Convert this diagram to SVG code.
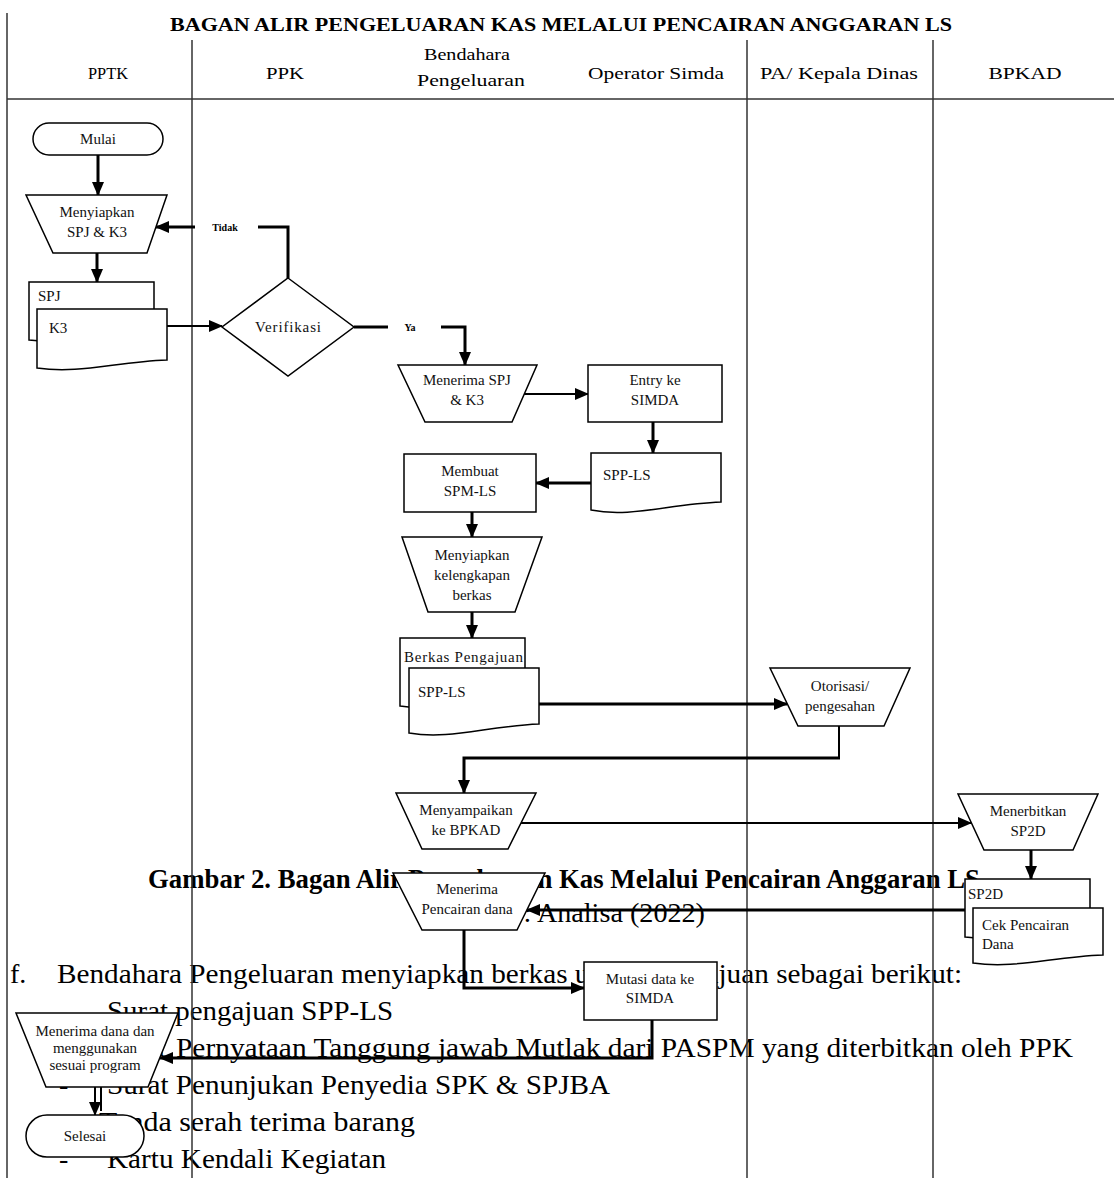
<svg xmlns="http://www.w3.org/2000/svg" width="1114" height="1178" viewBox="0 0 1114 1178">
<style>
.lane{stroke:#333;stroke-width:1.5;fill:none}
.sh{fill:#fff;stroke:#000;stroke-width:1.5}
.tk{stroke:#000;stroke-width:3;fill:none}
.tn{stroke:#000;stroke-width:2;fill:none}
.nt{font-family:"Liberation Serif",serif;font-size:15px;fill:#111}
.nc{text-anchor:middle}
.hd{font-family:"Liberation Serif",serif;font-size:17px;fill:#000;text-anchor:middle}
.ttl{font-family:"Liberation Serif",serif;font-size:19px;font-weight:bold;fill:#000}
.body{font-family:"Liberation Serif",serif;font-size:28px;fill:#000}
.cap{font-family:"Liberation Serif",serif;font-size:27px;font-weight:bold;fill:#000}
.sm{font-family:"Liberation Serif",serif;font-size:10px;font-weight:bold;fill:#000;text-anchor:middle}
</style>
<defs>
<marker id="ah" markerUnits="userSpaceOnUse" markerWidth="14" markerHeight="12" refX="13" refY="6" orient="auto"><path d="M0,0 L14,6 L0,12 Z" fill="#000"/></marker>
</defs>
<rect width="1114" height="1178" fill="#fff"/>

<g id="document-text">
<text class="cap" x="148" y="888" textLength="832" lengthAdjust="spacingAndGlyphs">Gambar 2. Bagan Alir Pengeluaran Kas Melalui Pencairan Anggaran LS</text>
<text class="body" x="436" y="922" textLength="269" lengthAdjust="spacingAndGlyphs">Sumber: Analisa (2022)</text>
<text class="body" x="10" y="983">f.</text>
<text class="body" x="57" y="983" textLength="905" lengthAdjust="spacingAndGlyphs">Bendahara Pengeluaran menyiapkan berkas untuk pengajuan sebagai berikut:</text>
<text class="body" x="59" y="1020">-</text>
<text class="body" x="107" y="1020" textLength="286" lengthAdjust="spacingAndGlyphs">Surat pengajuan SPP-LS</text>
<text class="body" x="59" y="1057">-</text>
<text class="body" x="107" y="1057">Surat</text>
<text class="body" x="176" y="1057" textLength="897" lengthAdjust="spacingAndGlyphs">Pernyataan Tanggung jawab Mutlak dari PASPM yang diterbitkan oleh PPK</text>
<text class="body" x="59" y="1094">-</text>
<text class="body" x="107" y="1094" textLength="503" lengthAdjust="spacingAndGlyphs">Surat Penunjukan Penyedia SPK &amp; SPJBA</text>
<text class="body" x="59" y="1131">-</text>
<text class="body" x="99" y="1131" textLength="316" lengthAdjust="spacingAndGlyphs">Tanda serah terima barang</text>
<text class="body" x="59" y="1168">-</text>
<text class="body" x="107" y="1168" textLength="279" lengthAdjust="spacingAndGlyphs">Kartu Kendali Kegiatan</text>
</g>

<g id="header">
<text class="ttl" x="170" y="31" textLength="782" lengthAdjust="spacingAndGlyphs">BAGAN ALIR PENGELUARAN KAS MELALUI PENCAIRAN ANGGARAN LS</text>
<text class="hd" x="108" y="79" textLength="40" lengthAdjust="spacingAndGlyphs">PPTK</text>
<text class="hd" x="285" y="79" textLength="38" lengthAdjust="spacingAndGlyphs">PPK</text>
<text class="hd" x="467" y="60" textLength="86" lengthAdjust="spacingAndGlyphs">Bendahara</text>
<text class="hd" x="471" y="86" textLength="108" lengthAdjust="spacingAndGlyphs">Pengeluaran</text>
<text class="hd" x="656" y="79" textLength="136" lengthAdjust="spacingAndGlyphs">Operator Simda</text>
<text class="hd" x="839" y="79" textLength="158" lengthAdjust="spacingAndGlyphs">PA/ Kepala Dinas</text>
<text class="hd" x="1025" y="79" textLength="73" lengthAdjust="spacingAndGlyphs">BPKAD</text>
</g>

<g id="lanes">
<line class="lane" x1="7" y1="13" x2="7" y2="1178"/>
<line class="lane" x1="192" y1="40" x2="192" y2="1178"/>
<line class="lane" x1="747" y1="40" x2="747" y2="1178"/>
<line class="lane" x1="933" y1="40" x2="933" y2="1178"/>
<line class="lane" x1="7" y1="99" x2="1114" y2="99"/>
</g>

<g id="connectors">
<path class="tk" d="M98,155 V195" marker-end="url(#ah)"/>
<path class="tk" d="M97,253 V282" marker-end="url(#ah)"/>
<path class="tn" d="M167,326 H222" marker-end="url(#ah)"/>
<path class="tk" d="M288,278 V227 H258"/>
<text class="sm" x="225" y="231">Tidak</text>
<path class="tk" d="M195,227 H156" marker-end="url(#ah)"/>
<path class="tk" d="M354,327 H388"/>
<text class="sm" x="410" y="331">Ya</text>
<path class="tk" d="M441,327 H465 V365" marker-end="url(#ah)"/>
<path class="tn" d="M524,394 H588" marker-end="url(#ah)"/>
<path class="tk" d="M653,422 V453" marker-end="url(#ah)"/>
<path class="tk" d="M591,483 H536" marker-end="url(#ah)"/>
<path class="tk" d="M472,512 V537" marker-end="url(#ah)"/>
<path class="tk" d="M472,612 V638" marker-end="url(#ah)"/>
<path class="tk" d="M539,704 H787" marker-end="url(#ah)"/>
<path class="tn" d="M839,726 V758"/>
<path class="tk" d="M840,758 H464 V793" marker-end="url(#ah)"/>
<path class="tn" d="M521,823 H971" marker-end="url(#ah)"/>
<path class="tk" d="M1031,850 V879" marker-end="url(#ah)"/>
<path class="tk" d="M965,910 H527" marker-end="url(#ah)"/>
<path class="tk" d="M464,930 V988 H584" marker-end="url(#ah)"/>
<path class="tk" d="M652,1020 V1058 H160" marker-end="url(#ah)"/>
<path class="tn" d="M95,1087 V1115" marker-end="url(#ah)"/>
<path class="tn" d="M101,1085 V1111" stroke-width="1.5"/>
</g>

<g id="mulai">
<rect class="sh" x="33" y="123" width="130" height="32" rx="16"/>
<text class="nt nc" x="98" y="144">Mulai</text>
</g>
<g id="menyiapkan-spj">
<polygon class="sh" points="26,195 167,195 147,253 53,253"/>
<text class="nt nc" x="97" y="217">Menyiapkan</text>
<text class="nt nc" x="97" y="237">SPJ &amp; K3</text>
</g>
<g id="doc-spj">
<path class="sh" d="M29,282 H154 V333 C104,335 70,345 29,340 Z"/>
<text class="nt" x="38" y="301">SPJ</text>
</g>
<g id="doc-k3">
<path class="sh" d="M37,309 H167 V360 C115,362 80,374 37,368 Z"/>
<text class="nt" x="49" y="333">K3</text>
</g>
<g id="verifikasi">
<polygon class="sh" points="288,278 354,327 288,376 222,327"/>
<text class="nt nc" x="288" y="332" textLength="66">Verifikasi</text>
</g>
<g id="menerima-spj">
<polygon class="sh" points="398,365 537,365 512,422 425,422"/>
<text class="nt nc" x="467" y="385">Menerima SPJ</text>
<text class="nt nc" x="467" y="405">&amp; K3</text>
</g>
<g id="entry-simda">
<rect class="sh" x="588" y="365" width="134" height="57"/>
<text class="nt nc" x="655" y="385">Entry ke</text>
<text class="nt nc" x="655" y="405">SIMDA</text>
</g>
<g id="doc-spp-ls">
<path class="sh" d="M591,453 H721 V502 C669,504 630,518 591,510 Z"/>
<text class="nt" x="603" y="480">SPP-LS</text>
</g>
<g id="membuat-spm">
<rect class="sh" x="404" y="454" width="132" height="58"/>
<text class="nt nc" x="470" y="476">Membuat</text>
<text class="nt nc" x="470" y="496">SPM-LS</text>
</g>
<g id="menyiapkan-berkas">
<polygon class="sh" points="402,537 542,537 515,612 428,612"/>
<text class="nt nc" x="472" y="560">Menyiapkan</text>
<text class="nt nc" x="472" y="580">kelengkapan</text>
<text class="nt nc" x="472" y="600">berkas</text>
</g>
<g id="doc-berkas">
<path class="sh" d="M400,638 H525 V700 C475,702 440,712 400,706 Z"/>
<text class="nt" x="404" y="662" textLength="119">Berkas Pengajuan</text>
</g>
<g id="doc-spp-ls-2">
<path class="sh" d="M409,668 H539 V724 C487,726 450,740 409,733 Z"/>
<text class="nt" x="418" y="697">SPP-LS</text>
</g>
<g id="otorisasi">
<polygon class="sh" points="770,668 910,668 884,726 798,726"/>
<text class="nt nc" x="840" y="691">Otorisasi/</text>
<text class="nt nc" x="840" y="711">pengesahan</text>
</g>
<g id="menyampaikan">
<polygon class="sh" points="396,793 536,793 508,849 422,849"/>
<text class="nt nc" x="466" y="815">Menyampaikan</text>
<text class="nt nc" x="466" y="835">ke BPKAD</text>
</g>
<g id="menerbitkan">
<polygon class="sh" points="958,794 1098,794 1073,850 984,850"/>
<text class="nt nc" x="1028" y="816">Menerbitkan</text>
<text class="nt nc" x="1028" y="836">SP2D</text>
</g>
<g id="doc-sp2d">
<path class="sh" d="M965,879 H1090 V930 C1040,932 1005,942 965,937 Z"/>
<text class="nt" x="968" y="899">SP2D</text>
</g>
<g id="doc-cek">
<path class="sh" d="M973,908 H1103 V955 C1051,957 1015,969 973,963 Z"/>
<text class="nt" x="982" y="930">Cek Pencairan</text>
<text class="nt" x="982" y="949">Dana</text>
</g>
<g id="menerima-pencairan">
<polygon class="sh" points="393,873 545,873 517,930 422,930"/>
<text class="nt nc" x="467" y="894" font-size="13">Menerima</text>
<text class="nt nc" x="467" y="914" font-size="13">Pencairan dana</text>
</g>
<g id="mutasi-simda">
<rect class="sh" x="584" y="962" width="133" height="58"/>
<text class="nt nc" x="650" y="984" font-size="13">Mutasi data ke</text>
<text class="nt nc" x="650" y="1003" font-size="13">SIMDA</text>
</g>
<g id="menerima-dana">
<polygon class="sh" points="16,1013 178,1013 148,1087 46,1087"/>
<text class="nt nc" x="95" y="1036" font-size="13">Menerima dana dan</text>
<text class="nt nc" x="95" y="1053" font-size="13">menggunakan</text>
<text class="nt nc" x="95" y="1070" font-size="13">sesuai program</text>
</g>
<g id="selesai">
<rect class="sh" x="26" y="1115" width="118" height="42" rx="21"/>
<text class="nt nc" x="85" y="1141" font-size="13">Selesai</text>
</g>
</svg>
